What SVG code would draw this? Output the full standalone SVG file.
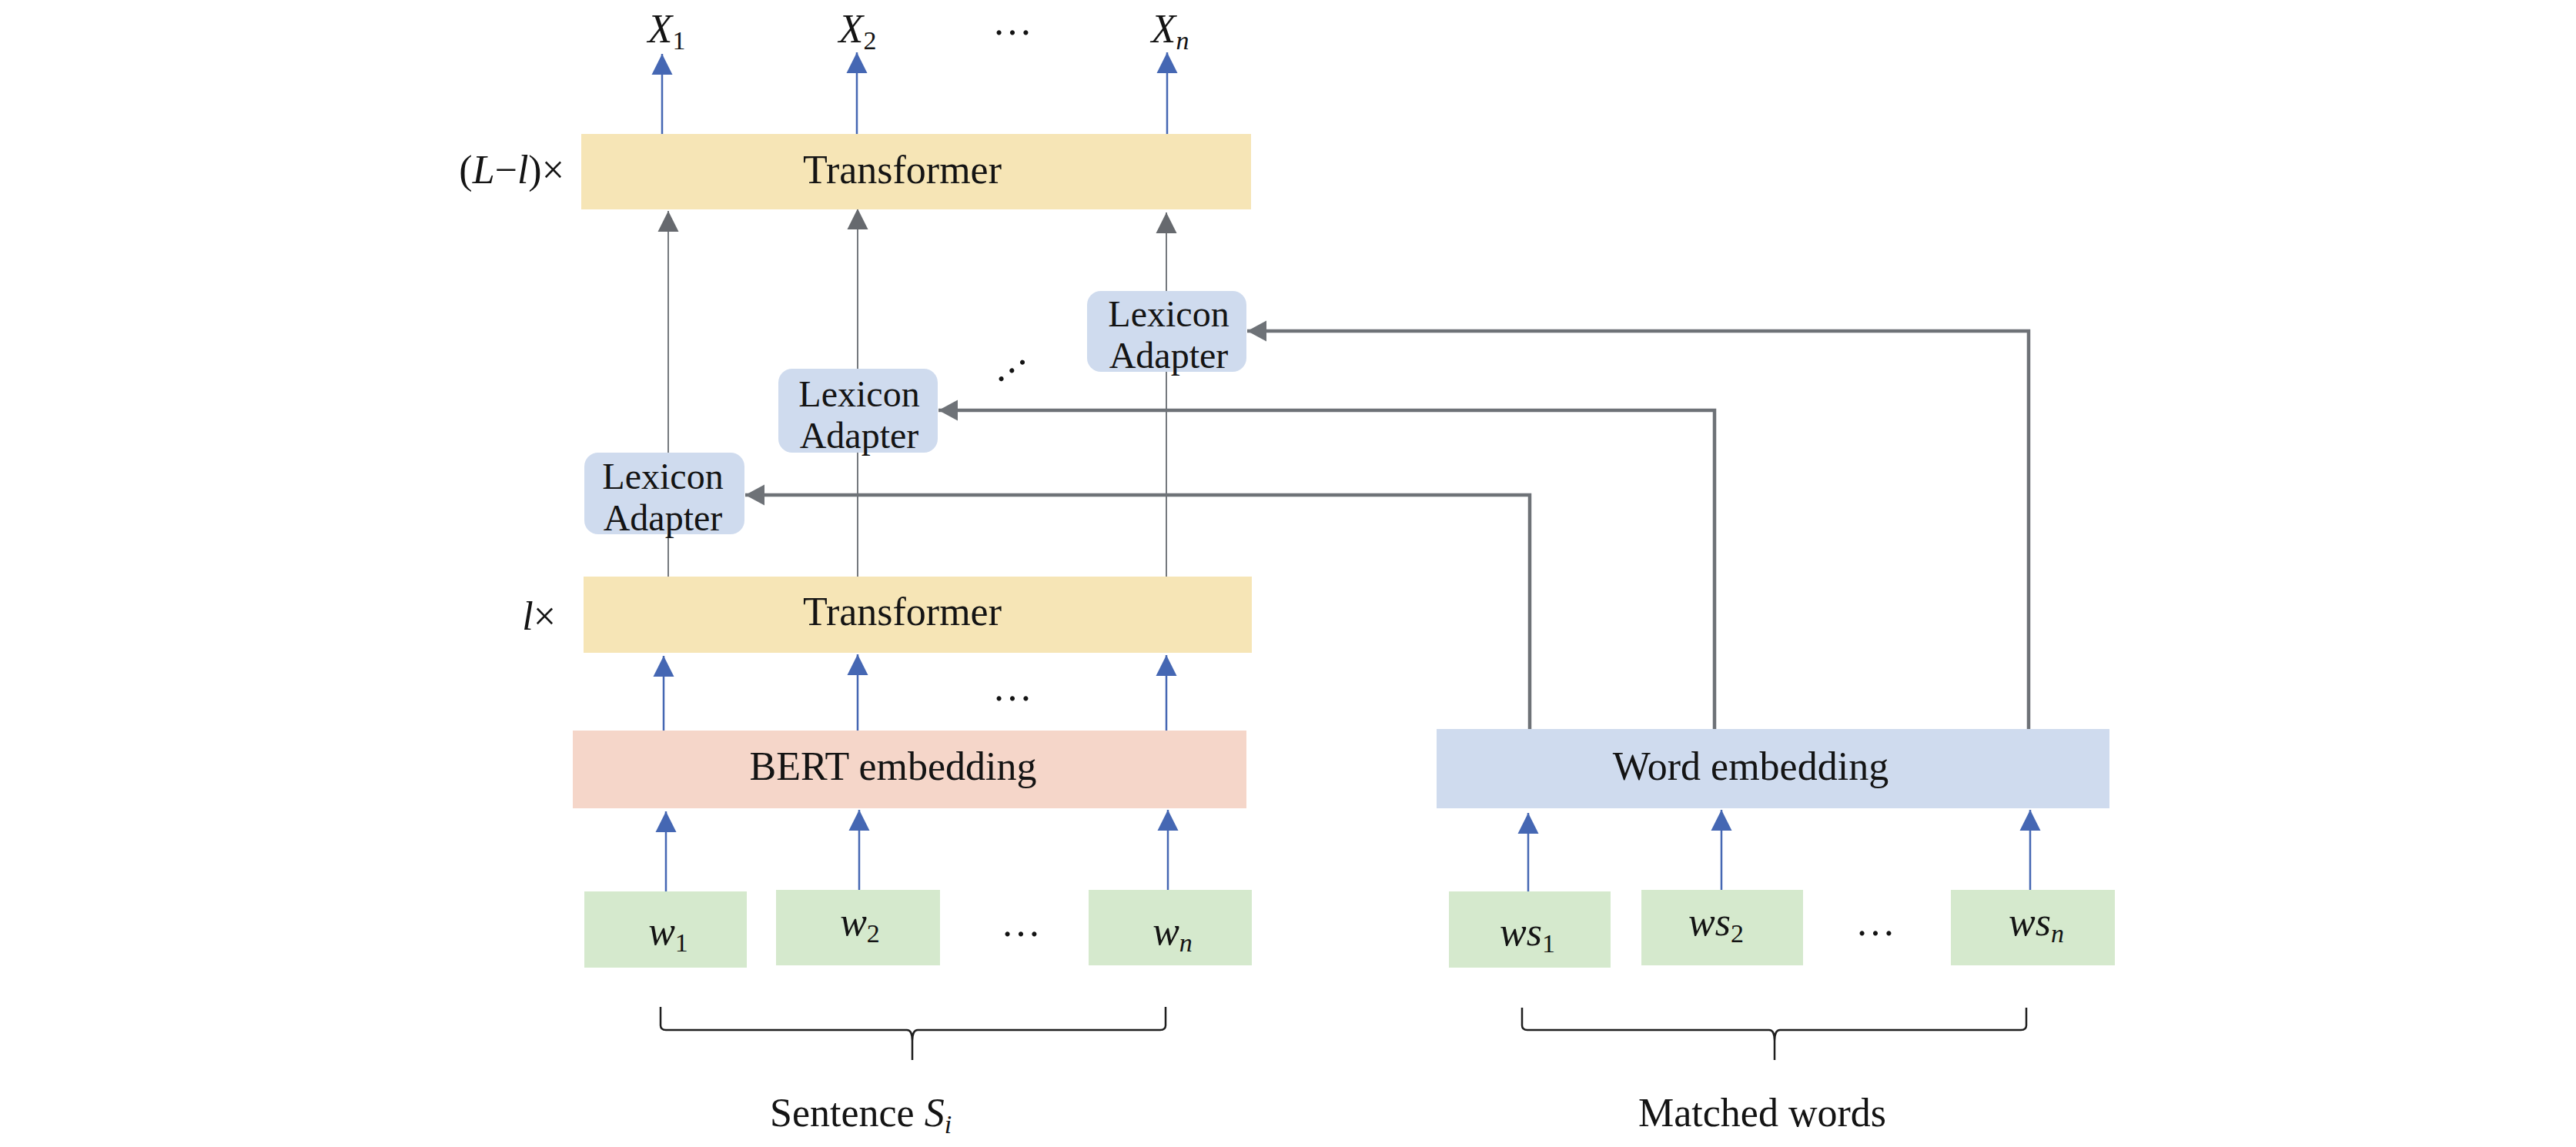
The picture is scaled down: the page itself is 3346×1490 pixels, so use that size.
<svg xmlns="http://www.w3.org/2000/svg" width="3346" height="1490" viewBox="0 0 3346 1490">
<style>
text{font-family:"Liberation Serif","Times New Roman",serif;font-size:52px;fill:#141414;}
.m{text-anchor:middle}
.e{text-anchor:end}
.i{font-style:italic}
.sub{font-size:34px}
.la{font-size:48px}
.tf{fill:#F6E5B6}
.bert{fill:#F5D6C9}
.bl{fill:#CFDBEE}
.grn{fill:#D5E9CD}
.ba{stroke:#4567B3;stroke-width:2.5;fill:none;marker-end:url(#mb)}
.ga{stroke:#75797E;stroke-width:2;fill:none;marker-end:url(#mg)}
.gf{stroke:#6E7277;stroke-width:4.5;fill:none;marker-end:url(#mf)}
.br{stroke:#1e1e1e;stroke-width:2.5;fill:none}
</style>
<defs>
<marker id="mb" markerUnits="userSpaceOnUse" markerWidth="28" markerHeight="28" refX="27" refY="14" orient="auto"><path d="M0,0.5 L27,14 L0,27.5 z" fill="#4567B3"/></marker>
<marker id="mg" markerUnits="userSpaceOnUse" markerWidth="28" markerHeight="28" refX="27" refY="14" orient="auto"><path d="M0,0.5 L27,14 L0,27.5 z" fill="#66696E"/></marker>
<marker id="mf" markerUnits="userSpaceOnUse" markerWidth="28" markerHeight="28" refX="25" refY="14" orient="auto"><path d="M0,0.5 L25,14 L0,27.5 z" fill="#6E7277"/></marker>
</defs>
<rect x="0" y="0" width="3346" height="1490" fill="#ffffff"/>

<g id="connectors">
  <line class="ba" x1="860" y1="174" x2="860" y2="70"/>
  <line class="ba" x1="1113" y1="174" x2="1113" y2="68"/>
  <line class="ba" x1="1516" y1="174" x2="1516" y2="68"/>
  <line class="ga" x1="868" y1="749" x2="868" y2="274"/>
  <line class="ga" x1="1114" y1="749" x2="1114" y2="271"/>
  <line class="ga" x1="1515" y1="749" x2="1515" y2="276"/>
  <line class="ba" x1="862" y1="949" x2="862" y2="852"/>
  <line class="ba" x1="1114" y1="949" x2="1114" y2="850"/>
  <line class="ba" x1="1515" y1="949" x2="1515" y2="851"/>
  <line class="ba" x1="865" y1="1158" x2="865" y2="1054"/>
  <line class="ba" x1="1116" y1="1156" x2="1116" y2="1052"/>
  <line class="ba" x1="1517" y1="1156" x2="1517" y2="1052"/>
  <line class="ba" x1="1985" y1="1158" x2="1985" y2="1056"/>
  <line class="ba" x1="2236" y1="1156" x2="2236" y2="1052"/>
  <line class="ba" x1="2637" y1="1156" x2="2637" y2="1052"/>
  <polyline class="gf" points="1987,947 1987,643 968,643"/>
  <polyline class="gf" points="2227,947 2227,533 1219,533"/>
  <polyline class="gf" points="2635,947 2635,430 1620,430"/>
</g>

<g id="transformer-top">
  <rect class="tf" x="755" y="174" width="870" height="98"/>
  <text class="m" x="1172" y="238">Transformer</text>
</g>
<g id="transformer-top-label">
  <text class="e" x="733" y="238">(<tspan class="i">L</tspan>−<tspan class="i">l</tspan>)×</text>
</g>
<g id="outputs">
  <text class="m" x="866" y="55"><tspan class="i">X</tspan><tspan class="sub" dy="9">1</tspan></text>
  <text class="m" x="1114" y="55"><tspan class="i">X</tspan><tspan class="sub" dy="9">2</tspan></text>
  <text class="m" x="1315" y="45">…</text>
  <text class="m" x="1520" y="55"><tspan class="i">X</tspan><tspan class="sub i" dy="9">n</tspan></text>
</g>

<g id="lexicon-adapter-1">
  <rect class="bl" x="759" y="588" width="208" height="106" rx="18"/>
  <text class="m la" x="861" y="635">Lexicon</text>
  <text class="m la" x="861" y="689">Adapter</text>
</g>
<g id="lexicon-adapter-2">
  <rect class="bl" x="1011" y="479" width="207" height="109" rx="18"/>
  <text class="m la" x="1116" y="528">Lexicon</text>
  <text class="m la" x="1116" y="582">Adapter</text>
</g>
<g id="lexicon-adapter-3">
  <rect class="bl" x="1412" y="378" width="207" height="105" rx="18"/>
  <text class="m la" x="1518" y="424">Lexicon</text>
  <text class="m la" x="1518" y="478">Adapter</text>
</g>
<g id="adapter-dots">
  <text class="m" transform="translate(1314,481) rotate(-38)" x="0" y="3">…</text>
</g>

<g id="transformer-bottom">
  <rect class="tf" x="758" y="749" width="868" height="99"/>
  <text class="m" x="1172" y="812">Transformer</text>
</g>
<g id="transformer-bottom-label">
  <text class="e" x="722" y="818"><tspan class="i">l</tspan>×</text>
</g>
<text class="m" x="1315" y="910">…</text>

<g id="bert-embedding">
  <rect class="bert" x="744" y="949" width="875" height="101"/>
  <text class="m" x="1160" y="1013">BERT embedding</text>
</g>
<g id="word-embedding">
  <rect class="bl" x="1866" y="947" width="874" height="103"/>
  <text class="m" x="2274" y="1013">Word embedding</text>
</g>

<g id="w1">
  <rect class="grn" x="759" y="1158" width="211" height="99"/>
  <text class="m" x="868" y="1227"><tspan class="i">w</tspan><tspan class="sub" dy="9">1</tspan></text>
</g>
<g id="w2">
  <rect class="grn" x="1008" y="1156" width="213" height="98"/>
  <text class="m" x="1117" y="1215"><tspan class="i">w</tspan><tspan class="sub" dy="9">2</tspan></text>
</g>
<text class="m" x="1326" y="1216">…</text>
<g id="wn">
  <rect class="grn" x="1414" y="1156" width="212" height="98"/>
  <text class="m" x="1523" y="1227"><tspan class="i">w</tspan><tspan class="sub i" dy="9">n</tspan></text>
</g>

<g id="ws1">
  <rect class="grn" x="1882" y="1158" width="210" height="99"/>
  <text class="m" x="1984" y="1228"><tspan class="i">ws</tspan><tspan class="sub" dy="9">1</tspan></text>
</g>
<g id="ws2">
  <rect class="grn" x="2132" y="1156" width="210" height="98"/>
  <text class="m" x="2229" y="1215"><tspan class="i">ws</tspan><tspan class="sub" dy="9">2</tspan></text>
</g>
<text class="m" x="2436" y="1215">…</text>
<g id="wsn">
  <rect class="grn" x="2534" y="1156" width="213" height="98"/>
  <text class="m" x="2645" y="1215"><tspan class="i">ws</tspan><tspan class="sub i" dy="9">n</tspan></text>
</g>

<g id="sentence-brace">
  <path class="br" d="M858,1308 L858,1332 Q858,1338 865,1338 L1178,1338 Q1185,1338 1185,1352 L1185,1377 M1185,1352 Q1185,1338 1192,1338 L1507,1338 Q1514,1338 1514,1332 L1514,1308"/>
  <text x="1000" y="1463">Sentence <tspan class="i">S</tspan><tspan class="sub i" dy="9">i</tspan></text>
</g>
<g id="matched-brace">
  <path class="br" d="M1977,1309 L1977,1332 Q1977,1338 1984,1338 L2298,1338 Q2305,1338 2305,1352 L2305,1377 M2305,1352 Q2305,1338 2312,1338 L2625,1338 Q2632,1338 2632,1332 L2632,1309"/>
  <text class="m" x="2289" y="1463">Matched words</text>
</g>
</svg>
